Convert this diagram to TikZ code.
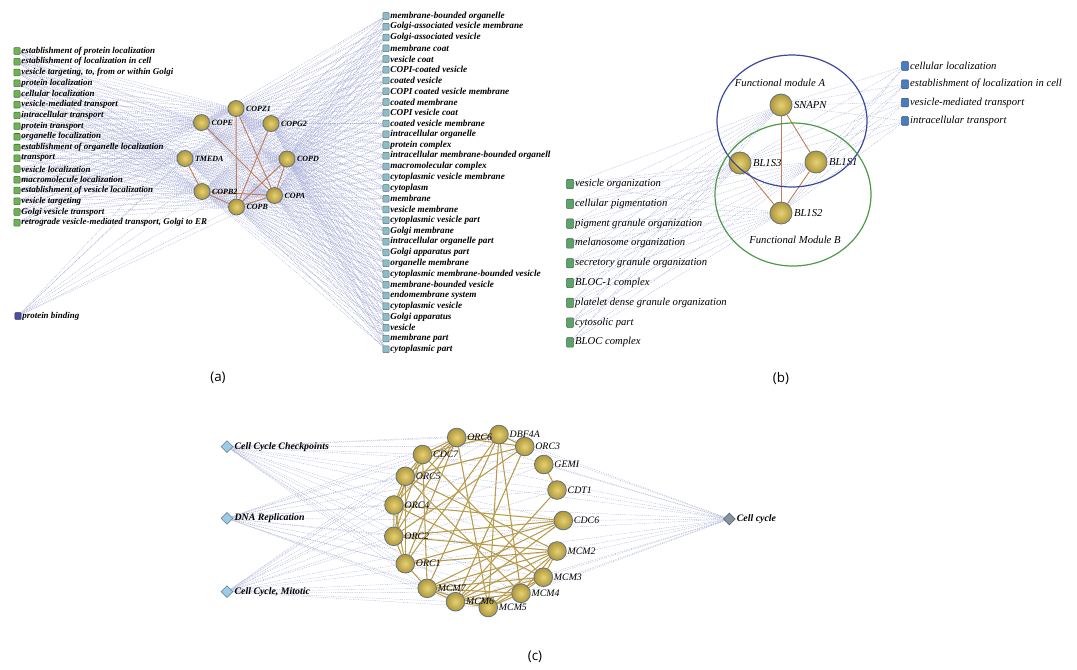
\documentclass[tikz,border=0pt]{standalone}
\usepackage{fontspec}
\setmainfont{Liberation Serif}
\newfontfamily\panelfont{Open Sans}
\usetikzlibrary{shapes.geometric,backgrounds}

\definecolor{genein}{HTML}{E4D277}
\definecolor{geneout}{HTML}{B09638}
\definecolor{genedraw}{HTML}{5E7384}
\definecolor{aedge}{HTML}{C07F5A}
\definecolor{cedge}{HTML}{B89C4C}
\definecolor{webc}{HTML}{ADB2D8}
\definecolor{goleft}{HTML}{6DB352}
\definecolor{goright}{HTML}{8CBDC6}
\definecolor{gobind}{HTML}{4C4CA0}
\definecolor{gobblue}{HTML}{4A7CC0}
\definecolor{gobgreen}{HTML}{5EA46A}
\definecolor{pathway}{HTML}{9CCBE8}
\definecolor{cellcyc}{HTML}{8894A0}
\definecolor{modA}{HTML}{3A4A9A}
\definecolor{modB}{HTML}{4E9A4A}

\tikzset{
    gene/.style={circle, draw=genedraw, line width=0.6pt, shading=radial,
        inner color=genein, outer color=geneout, inner sep=0pt},
    geneA/.style={gene, minimum size=12pt,
        label={[font=\fontsize{6}{6}\selectfont\itshape\bfseries, inner sep=1pt]right:#1}},
    geneB/.style={gene, minimum size=16.5pt,
        label={[font=\fontsize{8}{9}\selectfont\itshape, inner sep=1pt]right:#1}},
    geneC/.style={gene, minimum size=14pt,
        label={[font=\fontsize{7.4}{8}\selectfont\itshape, inner sep=0.5pt]right:#1}},
    gobox/.style={rectangle, draw=#1!60!black, fill=#1, line width=0.4pt,
        minimum width=4.6pt, minimum height=5pt, inner sep=0pt, rounded corners=0.5pt},
    gotext/.style={font=\fontsize{6.7}{7}\selectfont\itshape\bfseries, inner sep=0.6pt},
    gortext/.style={font=\fontsize{6.9}{7}\selectfont\itshape\bfseries, inner sep=0.6pt},
    gobtext/.style={font=\fontsize{8}{9}\selectfont\itshape, inner sep=1pt},
    pathbox/.style={diamond, aspect=1, draw=#1!60!black, fill=#1, line width=0.4pt,
        minimum size=9pt, inner sep=0pt},
    pathtext/.style={font=\fontsize{7.4}{8}\selectfont\itshape\bfseries, inner sep=0.8pt},
    web/.style={draw=webc, line width=0.3pt, dash pattern=on 0.7pt off 0.7pt},
    panel/.style={font=\panelfont\fontsize{10}{12}\selectfont}
}

\begin{document}
\begin{tikzpicture}[x=0.75pt, y=-0.75pt]
\useasboundingbox (0,0) rectangle (1077,669);

% ---------- (a) COPI module ----------
\node[geneA=COPZ1] (COPZ1) at (236,108.5) {};
\node[geneA=COPE]  (COPE)  at (201.5,122.5) {};
\node[geneA=COPG2] (COPG2) at (271,123.5) {};
\node[geneA=TMEDA] (TMEDA) at (185,158.5) {};
\node[geneA=COPD]  (COPD)  at (287,159) {};
\node[geneA=COPB2] (COPB2) at (202,191.5) {};
\node[geneA=COPA]  (COPA)  at (274.5,195.5) {};
\node[geneA=COPB]  (COPB)  at (236.5,207) {};

% GO terms, left column
\foreach \txt [count=\i] in {establishment of protein localization,
    establishment of localization in cell,
    {vesicle targeting, to, from or within Golgi},
    protein localization, cellular localization, vesicle-mediated transport,
    intracellular transport, protein transport, organelle localization,
    establishment of organelle localization, transport, vesicle localization,
    macromolecule localization, establishment of vesicle localization,
    vesicle targeting, Golgi vesicle transport,
    {retrograde vesicle-mediated transport, Golgi to ER}}
  \node[gobox=goleft, label={[gotext]right:\txt}] (aL\i) at (17,{51+10.73*(\i-1)}) {};

\node[gobox=gobind, label={[gotext]right:protein binding}] (aPB) at (18,316) {};

% GO terms, right column
\foreach \txt [count=\i] in {membrane-bounded organelle,
    Golgi-associated vesicle membrane, Golgi-associated vesicle, membrane coat,
    vesicle coat, COPI-coated vesicle, coated vesicle,
    COPI coated vesicle membrane, coated membrane, COPI vesicle coat,
    coated vesicle membrane, intracellular organelle, protein complex,
    intracellular membrane-bounded organell, macromolecular complex,
    cytoplasmic vesicle membrane, cytoplasm, membrane, vesicle membrane,
    cytoplasmic vesicle part, Golgi membrane, intracellular organelle part,
    Golgi apparatus part, organelle membrane,
    cytoplasmic membrane-bounded vesicle, membrane-bounded vesicle,
    endomembrane system, cytoplasmic vesicle, Golgi apparatus, vesicle,
    membrane part, cytoplasmic part}
  \node[gobox=goright, label={[gortext]right:\txt}] (aR\i) at (386,{16+10.75*(\i-1)}) {};

\node[panel] (la) at (218,378) {(a)};

% ---------- (b) BLOC-1 module ----------
\node[geneB=SNAPN] (SNAPN) at (781,105) {};
\node[geneB=BL1S3] (BL1S3) at (740,163) {};
\node[geneB=BL1S1] (BL1S1) at (816,162) {};
\node[geneB=BL1S2] (BL1S2) at (781,213) {};

\draw[modA, line width=0.9pt] (792,121) ellipse [x radius=75, y radius=66];
\draw[modB, line width=0.9pt] (793,194.5) ellipse [x radius=78, y radius=71.5];
\node[gobtext] (modAtxt) at (780,83) {Functional module A};
\node[gobtext] (modBtxt) at (795,240) {Functional Module B};

\foreach \txt [count=\i] in {cellular localization,
    establishment of localization in cell, vesicle-mediated transport,
    intracellular transport}
  \node[gobox=gobblue, minimum width=5pt, minimum height=6.5pt,
    label={[gobtext]right:\txt}] (bR\i) at (905,{66+18.3*(\i-1)}) {};

\foreach \txt [count=\i] in {vesicle organization, cellular pigmentation,
    pigment granule organization, melanosome organization,
    secretory granule organization, BLOC-1 complex,
    platelet dense granule organization, cytosolic part, BLOC complex}
  \node[gobox=gobgreen, minimum width=5pt, minimum height=7pt,
    label={[gobtext]right:\txt}] (bL\i) at (570,{184+19.8*(\i-1)}) {};

\node[panel] (lb) at (781,378) {(b)};

% ---------- (c) pre-replication module ----------
% (order matters: a label is painted over the ball that follows it)
\node[geneC=ORC3]  (ORC3)  at (524.7,446.5) {};
\node[geneC=DBF4A] (DBF4A) at (499,434.5) {};
\node[geneC=ORC6]  (ORC6)  at (456.7,437.5) {};
\node[geneC=CDC7]  (CDC7)  at (422.5,454.5) {};
\node[geneC=GEMI]  (GEMI)  at (543.8,464.5) {};
\node[geneC=ORC5]  (ORC5)  at (405.3,476.3) {};
\node[geneC=CDT1]  (CDT1)  at (557,490) {};
\node[geneC=ORC4]  (ORC4)  at (394,505) {};
\node[geneC=CDC6]  (CDC6)  at (563.3,520.5) {};
\node[geneC=ORC2]  (ORC2)  at (393.8,536.3) {};
\node[geneC=MCM2]  (MCM2)  at (557,551) {};
\node[geneC=ORC1]  (ORC1)  at (405.3,563.7) {};
\node[geneC=MCM3]  (MCM3)  at (543.3,577.2) {};
\node[geneC=MCM4]  (MCM4)  at (521,593.3) {};
\node[geneC=MCM5]  (MCM5)  at (488.3,607.5) {};
\node[geneC=MCM6]  (MCM6)  at (455.5,601.7) {};
\node[geneC=MCM7]  (MCM7)  at (427.2,588.3) {};

\node[pathbox=pathway, label={[pathtext]right:Cell Cycle Checkpoints}] (pChk) at (227,446.7) {};
\node[pathbox=pathway, label={[pathtext]right:DNA Replication}] (pRep) at (227,518.3) {};
\node[pathbox=pathway, label={[pathtext]right:{Cell Cycle, Mitotic}}] (pMit) at (227,591.7) {};
\node[pathbox=cellcyc, label={[pathtext]right:Cell cycle}] (pCyc) at (729.3,519) {};

\node[panel] (lc) at (535,657) {(c)};

% ---------- connectors ----------
\begin{pgfonlayer}{background}
% gene -- term links
\foreach \g in {COPZ1,COPE,COPG2,TMEDA,COPD,COPB2,COPA,COPB} {
  \foreach \i in {1,...,17} \draw[web] (\g) -- (aL\i);
  \foreach \i in {1,...,32} \draw[web] (\g) -- (aR\i);
  \draw[web] (\g) -- (aPB);
}
\foreach \g in {SNAPN,BL1S3,BL1S1,BL1S2} {
  \foreach \i in {1,...,4} \draw[web] (\g) -- (bR\i);
  \foreach \i in {1,...,9} \draw[web] (\g) -- (bL\i);
}
\foreach \g in {ORC6,DBF4A,ORC3,CDC7,GEMI,ORC5,CDT1,ORC4,CDC6,ORC2,MCM2,ORC1,MCM3,MCM7,MCM4,MCM6,MCM5}
  \foreach \p in {pChk,pRep,pMit,pCyc} \draw[web] (\g) -- (\p);

% protein interactions
\foreach \u/\v in {COPZ1/COPB,COPZ1/COPA,COPE/COPA,COPG2/COPB,COPD/COPB,
    COPD/COPA,COPB2/COPA,COPB2/COPB,TMEDA/COPB2,COPB/COPA}
  \draw[aedge, line width=0.7pt] (\u) -- (\v);

\foreach \u/\v in {SNAPN/BL1S2,SNAPN/BL1S1,BL1S3/BL1S2,BL1S1/BL1S2}
  \draw[aedge, line width=0.7pt] (\u) -- (\v);

\foreach \u/\v in {ORC6/CDC7,CDC7/ORC5,ORC5/ORC4,ORC4/ORC2,ORC2/ORC1,ORC1/MCM7,
    MCM7/MCM6,MCM6/MCM5,MCM5/MCM4,MCM4/MCM3,MCM3/MCM2,ORC6/DBF4A,DBF4A/ORC3,
    GEMI/CDT1,ORC6/ORC3,CDC7/DBF4A,
    ORC5/ORC2,ORC4/ORC1,ORC5/ORC1,CDC7/ORC4,ORC6/ORC5,ORC6/ORC4,ORC6/ORC2,
    ORC6/ORC1,CDC7/ORC2,
    MCM7/MCM5,MCM7/MCM4,MCM7/MCM3,MCM7/MCM2,MCM6/MCM4,MCM6/MCM3,MCM6/MCM2,
    MCM5/MCM3,MCM5/MCM2,MCM4/MCM2,
    CDC7/MCM7,DBF4A/MCM7,DBF4A/MCM4,DBF4A/MCM5,ORC3/ORC5,ORC3/ORC2,ORC3/MCM6,
    CDC6/ORC2,CDC6/ORC1,CDC6/MCM7,CDC6/ORC4,MCM2/ORC2,MCM2/ORC5,MCM3/ORC4,
    MCM3/CDC7,MCM4/ORC5,MCM5/ORC6,CDT1/MCM6,ORC1/MCM2,CDC6/MCM6,DBF4A/ORC1}
  \draw[cedge, line width=0.8pt] (\u) -- (\v);
\end{pgfonlayer}

\end{tikzpicture}
\end{document}
